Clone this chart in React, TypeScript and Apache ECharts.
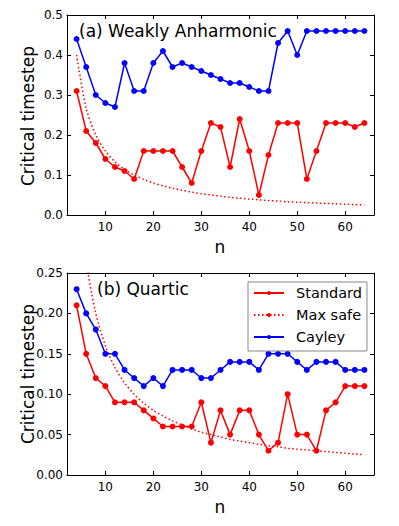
import React, { useEffect, useRef } from "react";
import * as echarts from "echarts";

const nValues = [4, 6, 8, 10, 12, 14, 16, 18, 20, 22, 24, 26, 28, 30, 32, 34, 36, 38, 40, 42, 44, 46, 48, 50, 52, 54, 56, 58, 60, 62, 64];

const standardA = [0.31, 0.21, 0.18, 0.14, 0.12, 0.11, 0.09, 0.16, 0.16, 0.16, 0.16, 0.12, 0.08, 0.16, 0.23, 0.22, 0.12, 0.24, 0.16, 0.05, 0.15, 0.23, 0.23, 0.23, 0.09, 0.16, 0.23, 0.23, 0.23, 0.22, 0.23];
const cayleyA = [0.44, 0.37, 0.30, 0.28, 0.27, 0.38, 0.31, 0.31, 0.38, 0.41, 0.37, 0.38, 0.37, 0.36, 0.35, 0.34, 0.33, 0.33, 0.32, 0.31, 0.31, 0.43, 0.46, 0.40, 0.46, 0.46, 0.46, 0.46, 0.46, 0.46, 0.46];

const standardB = [0.21, 0.15, 0.12, 0.11, 0.09, 0.09, 0.09, 0.08, 0.07, 0.06, 0.06, 0.06, 0.06, 0.09, 0.04, 0.08, 0.05, 0.08, 0.08, 0.05, 0.03, 0.04, 0.10, 0.05, 0.05, 0.03, 0.08, 0.09, 0.11, 0.11, 0.11];
const cayleyB = [0.23, 0.20, 0.18, 0.15, 0.15, 0.13, 0.12, 0.11, 0.12, 0.11, 0.13, 0.13, 0.13, 0.12, 0.12, 0.13, 0.14, 0.14, 0.14, 0.13, 0.15, 0.15, 0.15, 0.14, 0.13, 0.14, 0.14, 0.14, 0.13, 0.13, 0.13];

const maxSafe = [0.4, 0.267, 0.2, 0.16, 0.133, 0.114, 0.1, 0.089, 0.08, 0.073, 0.067, 0.062, 0.057, 0.053, 0.05, 0.047, 0.044, 0.042, 0.04, 0.038, 0.036, 0.035, 0.033, 0.032, 0.031, 0.03, 0.029, 0.028, 0.027, 0.026, 0.025];

const xTicks = [10, 20, 30, 40, 50, 60];
const seriesNames = ["Standard", "Max safe", "Cayley"];
const panelTitles = ["(a) Weakly Anharmonic", "(b) Quartic"];

const FONT = "DejaVu Sans";

function pairs(ys: number[]) {
  return nValues.map((n, i) => [n, ys[i]]);
}

export default function App() {
  const ref = useRef<HTMLDivElement>(null);
  useEffect(() => {
    if (!ref.current) return;
    const chart = echarts.init(ref.current, null, { renderer: "svg" });

    const xAxisMain = (gridIndex: number) => ({
      gridIndex,
      type: "value",
      min: 2,
      max: 66,
      axisLine: { onZero: false, lineStyle: { color: "#000", width: 1 } },
      axisTick: { inside: true, length: 4, customValues: xTicks, lineStyle: { color: "#000" } },
      axisLabel: { customValues: xTicks, fontSize: 12, color: "#000", margin: 6, fontFamily: FONT },
      splitLine: { show: false },
    });
    const xAxisMirror = (gridIndex: number) => ({
      gridIndex,
      type: "value",
      position: "top",
      min: 2,
      max: 66,
      axisLine: { onZero: false, lineStyle: { color: "#000", width: 1 } },
      axisTick: { inside: true, length: 4, customValues: xTicks, lineStyle: { color: "#000" } },
      axisLabel: { show: false },
      splitLine: { show: false },
    });
    const yAxisMain = (gridIndex: number, max: number, interval: number, digits: number) => ({
      gridIndex,
      type: "value",
      min: 0,
      max,
      interval,
      axisLine: { show: true, onZero: false, lineStyle: { color: "#000", width: 1 } },
      axisTick: { show: true, inside: true, length: 4, lineStyle: { color: "#000" } },
      axisLabel: {
        fontSize: 12,
        color: "#000",
        margin: 4,
        fontFamily: FONT,
        formatter: (v: number) => v.toFixed(digits),
      },
      splitLine: { show: false },
    });
    const yAxisMirror = (gridIndex: number, max: number, interval: number) => ({
      gridIndex,
      type: "value",
      position: "right",
      min: 0,
      max,
      interval,
      axisLine: { show: true, onZero: false, lineStyle: { color: "#000", width: 1 } },
      axisTick: { show: true, inside: true, length: 4, lineStyle: { color: "#000" } },
      axisLabel: { show: false },
      splitLine: { show: false },
    });

    const solid = (name: string, color: string, ys: number[], xi: number, yi: number) => ({
      name,
      type: "line",
      xAxisIndex: xi,
      yAxisIndex: yi,
      data: pairs(ys),
      symbol: "circle",
      symbolSize: 6,
      itemStyle: { color },
      lineStyle: { color, width: 1.5 },
      z: 3,
    });
    const dotted = (xi: number, yi: number) => ({
      name: seriesNames[1],
      type: "line",
      xAxisIndex: xi,
      yAxisIndex: yi,
      data: pairs(maxSafe),
      symbol: "none",
      smooth: 0.3,
      clip: true,
      itemStyle: { color: "#ff0000" },
      lineStyle: { color: "#ff0000", width: 1.5, type: [1.5, 2.5] },
      z: 2,
    });

    chart.setOption({
      animation: false,
      backgroundColor: "#fff",
      grid: [
        { left: 67, right: 25, top: 15, bottom: 311 },
        { left: 67, right: 25, top: 273, bottom: 51 },
      ],
      xAxis: [xAxisMain(0), xAxisMirror(0), xAxisMain(1), xAxisMirror(1)],
      yAxis: [
        yAxisMain(0, 0.5, 0.1, 1),
        yAxisMirror(0, 0.5, 0.1),
        yAxisMain(1, 0.25, 0.05, 2),
        yAxisMirror(1, 0.25, 0.05),
      ],
      legend: {
        data: seriesNames,
        orient: "vertical",
        left: 248,
        top: 282,
        itemWidth: 30,
        itemHeight: 5,
        itemGap: 6,
        padding: [3, 5, 6, 5],
        borderColor: "#888",
        borderWidth: 1,
        borderRadius: 0,
        backgroundColor: "#fff",
        textStyle: { fontSize: 14.5, fontFamily: FONT, color: "#000", lineHeight: 16, padding: [0, 0, 0, 7] },
      },
      series: [
        solid(seriesNames[0], "#ff0000", standardA, 0, 0),
        dotted(0, 0),
        solid(seriesNames[2], "#0000ff", cayleyA, 0, 0),
        solid(seriesNames[0], "#ff0000", standardB, 2, 2),
        dotted(2, 2),
        solid(seriesNames[2], "#0000ff", cayleyB, 2, 2),
      ],
      graphic: [
        { type: "text", left: 79, top: 22, z: 10, style: { text: panelTitles[0], fontSize: 17, fontFamily: FONT, fill: "#000" } },
        { type: "text", left: 97, top: 280, z: 10, style: { text: panelTitles[1], fontSize: 17, fontFamily: FONT, fill: "#000" } },
        { type: "text", x: 28, y: 116, rotation: Math.PI / 2, style: { text: "Critical timestep", fontSize: 17, fontFamily: FONT, fill: "#000", align: "center", verticalAlign: "middle" } },
        { type: "text", x: 28, y: 374, rotation: Math.PI / 2, style: { text: "Critical timestep", fontSize: 17, fontFamily: FONT, fill: "#000", align: "center", verticalAlign: "middle" } },
        { type: "text", x: 220, y: 247, style: { text: "n", fontSize: 17, fontFamily: FONT, fill: "#000", align: "center", verticalAlign: "middle" } },
        { type: "text", x: 220, y: 507, style: { text: "n", fontSize: 17, fontFamily: FONT, fill: "#000", align: "center", verticalAlign: "middle" } },
      ],
    } as any);
    return () => chart.dispose();
  }, []);
  return <div ref={ref} style={{ width: 399, height: 526, position: "absolute", left: 0, top: 0 }} />;
}
